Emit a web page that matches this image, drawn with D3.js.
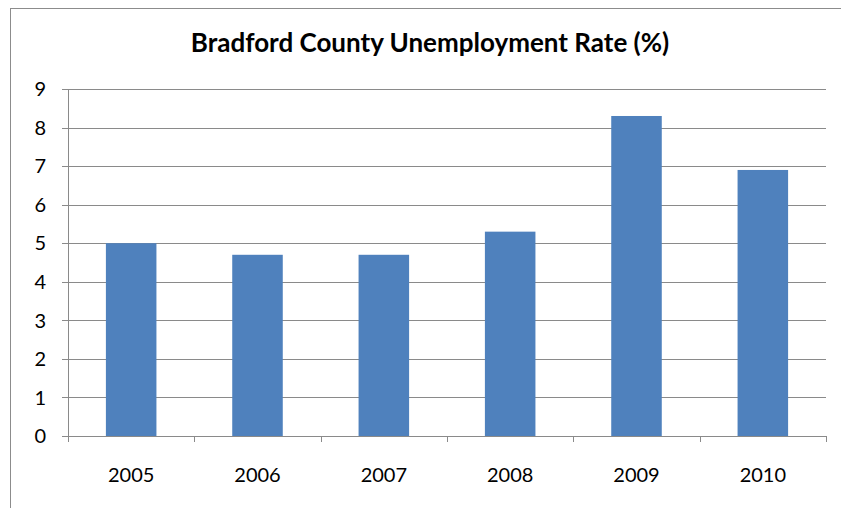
<!DOCTYPE html>
<html>
<head>
<meta charset="utf-8">
<script src="https://cdn.jsdelivr.net/npm/d3@7"></script>
<style>
  html, body { margin: 0; padding: 0; background: #fff; }
  svg { display: block; }
</style>
</head>
<body>
<svg id="chart" width="841" height="508"></svg>
<script>
const years = ["2005", "2006", "2007", "2008", "2009", "2010"];
const rates = [5.0, 4.7, 4.7, 5.3, 8.3, 6.9];
const yTicks = [0, 1, 2, 3, 4, 5, 6, 7, 8, 9];
const titleText = "Bradford County Unemployment Rate (%)";

const svg = d3.select("#chart");
const font = "Lato, 'Open Sans', sans-serif";

// chart frame
svg.append("rect")
  .attr("x", 10.5).attr("y", 8.5)
  .attr("width", 850).attr("height", 520)
  .attr("fill", "#fff").attr("stroke", "#8c8c8c").attr("stroke-width", 1);

const plot = { left: 68, right: 826, top: 89, bottom: 436 };

const x = d3.scaleBand()
  .domain(years)
  .range([plot.left, plot.right])
  .paddingInner(0.6)
  .paddingOuter(0.3);

const y = d3.scaleLinear()
  .domain([0, 9])
  .range([plot.bottom, plot.top]);

// horizontal gridlines
svg.append("g")
  .selectAll("line")
  .data(yTicks)
  .join("line")
  .attr("x1", plot.left - 6).attr("x2", plot.right)
  .attr("y1", d => Math.round(y(d)) + 0.5)
  .attr("y2", d => Math.round(y(d)) + 0.5)
  .attr("stroke", "#8a8a8a").attr("stroke-width", 1);

// bars
svg.append("g")
  .selectAll("rect")
  .data(years)
  .join("rect")
  .attr("x", d => x(d))
  .attr("width", x.bandwidth())
  .attr("y", (d, i) => y(rates[i]))
  .attr("height", (d, i) => y(0) - y(rates[i]))
  .attr("fill", "#4f81bd");

// y axis line
svg.append("line")
  .attr("x1", plot.left + 0.5).attr("x2", plot.left + 0.5)
  .attr("y1", plot.top).attr("y2", plot.bottom + 0.5)
  .attr("stroke", "#8a8a8a");

// x axis line and category ticks
svg.append("line")
  .attr("x1", plot.left).attr("x2", plot.right)
  .attr("y1", plot.bottom + 0.5).attr("y2", plot.bottom + 0.5)
  .attr("stroke", "#8a8a8a");

const step = x.step();
const boundaries = d3.range(years.length + 1).map(i => plot.left + i * step);
svg.append("g")
  .selectAll("line")
  .data(boundaries)
  .join("line")
  .attr("x1", d => Math.round(d) + 0.5).attr("x2", d => Math.round(d) + 0.5)
  .attr("y1", plot.bottom).attr("y2", plot.bottom + 6)
  .attr("stroke", "#8a8a8a");

// y tick labels
svg.append("g")
  .selectAll("text")
  .data(yTicks)
  .join("text")
  .attr("x", 46)
  .attr("y", d => y(d))
  .attr("dy", "0.36em")
  .attr("text-anchor", "end")
  .attr("font-family", font)
  .attr("font-size", 20)
  .attr("fill", "#000")
  .text(d => d);

// x tick labels
svg.append("g")
  .selectAll("text")
  .data(years)
  .join("text")
  .attr("x", d => x(d) + x.bandwidth() / 2)
  .attr("y", 482)
  .attr("text-anchor", "middle")
  .attr("font-family", font)
  .attr("font-size", 20)
  .attr("fill", "#000")
  .text(d => d);

// title
svg.append("text")
  .attr("x", 430)
  .attr("y", 52)
  .attr("text-anchor", "middle")
  .attr("font-family", font)
  .attr("font-weight", "bold")
  .attr("font-size", 26)
  .attr("fill", "#000")
  .text(titleText);
</script>
</body>
</html>
